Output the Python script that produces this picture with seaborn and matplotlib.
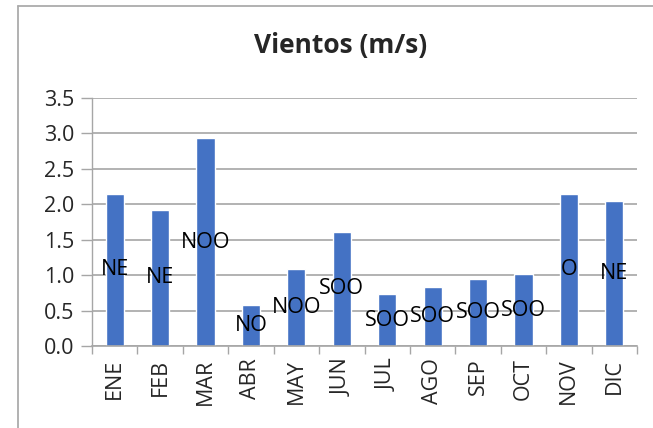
import matplotlib
matplotlib.use("Agg")
import matplotlib.pyplot as plt
import seaborn as sns
import pandas as pd
from matplotlib.lines import Line2D
from matplotlib.ticker import FixedLocator

months = ["ENE", "FEB", "MAR", "ABR", "MAY", "JUN", "JUL", "AGO", "SEP", "OCT", "NOV", "DIC"]
speeds = [2.15, 1.92, 2.93, 0.58, 1.08, 1.61, 0.73, 0.83, 0.95, 1.01, 2.15, 2.05]
directions = ["NE", "NE", "NOO", "NO", "NOO", "SOO", "SOO", "SOO", "SOO", "SOO", "O", "NE"]
yticks = [0.0, 0.5, 1.0, 1.5, 2.0, 2.5, 3.0, 3.5]

sns.set_theme(style="white")
plt.rcParams['font.family'] = ['Open Sans', 'DejaVu Sans']

df = pd.DataFrame({"mes": months, "vel": speeds})

W, H = 653, 428
fig = plt.figure(figsize=(W / 100, H / 100), dpi=100)
ax = fig.add_axes([92 / W, 1 - 346 / H, (637 - 92) / W, (346 - 98) / H])

sns.barplot(data=df, x="mes", y="vel", color="#4472C4", width=0.4, ax=ax, saturation=1)

FS = 15.5
for i, (v, d) in enumerate(zip(speeds, directions)):
    ax.text(i, v / 2, d, ha="center", va="center", fontsize=FS, color="black")

ax.set_ylim(0, 3.5)
ax.set_xlim(-0.5, len(months) - 0.5)
ax.set_yticks(yticks)
ax.set_yticklabels([f"{t:.1f}" for t in yticks], fontsize=FS)
ax.set_xticks(range(len(months)))
ax.set_xticklabels(months, rotation=90, fontsize=FS)
ax.xaxis.set_minor_locator(FixedLocator([i - 0.5 for i in range(len(months) + 1)]))
ax.tick_params(axis="x", which="major", length=0, pad=9)
ax.tick_params(axis="x", which="minor", length=6, color="#A6A6A6", width=1, direction="out", bottom=True)
ax.tick_params(axis="y", which="major", length=8, color="#A6A6A6", width=1, direction="out", left=True, pad=5)
ax.grid(axis="y", color="#A6A6A6", linewidth=1.2)
ax.set_axisbelow(True)
for s in ["top", "right"]:
    ax.spines[s].set_visible(False)
ax.spines["left"].set_color("#A6A6A6")
ax.spines["bottom"].set_color("#A6A6A6")
ax.spines["left"].set_linewidth(1)
ax.spines["bottom"].set_linewidth(1.2)
ax.set_xlabel("")
ax.set_ylabel("")

fig.text(341 / W, 1 - 46 / H, "Vientos (m/s)", ha="center", va="center", fontsize=19, fontweight="bold")

bx, by = 17.5 / W, 1 - 5.5 / H
fig.add_artist(Line2D([bx, bx], [0, by], transform=fig.transFigure, color="#ABABAB", linewidth=1.3))
fig.add_artist(Line2D([bx, 1], [by, by], transform=fig.transFigure, color="#ABABAB", linewidth=1.3))

fig.savefig("out.png", dpi=100)
